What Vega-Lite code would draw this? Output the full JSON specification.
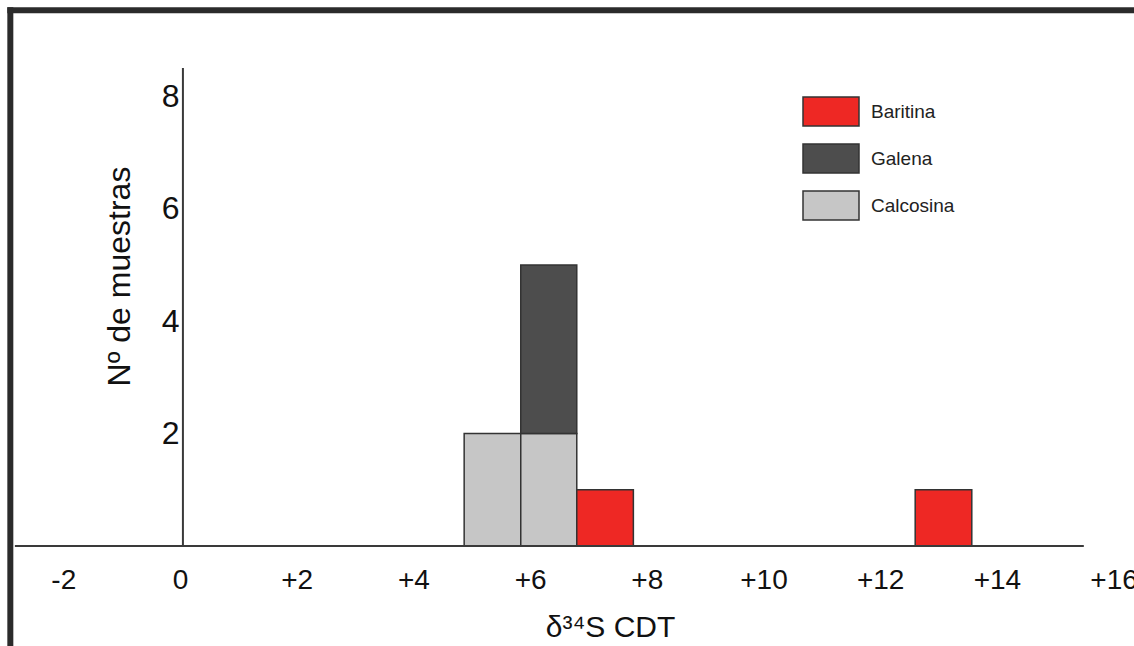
{
  "$schema": "https://vega.github.io/schema/vega-lite/v6.json",
  "width": 1134,
  "height": 646,
  "autosize": "none",
  "padding": 0,
  "background": "white",
  "config": {
    "view": {"stroke": null},
    "font": "Liberation Sans",
    "axis": {"grid": false, "ticks": false, "tickSize": 0, "domain": false, "labelColor": "#111", "titleColor": "#111", "titleFontWeight": "normal", "labelFont": "Liberation Sans", "titleFont": "Liberation Sans"}
  },
  "datasets": {
    "muestras": [
      {"mineral": "Calcosina", "desde": 4.87, "hasta": 5.84, "n": 2},
      {"mineral": "Calcosina", "desde": 5.84, "hasta": 6.8, "n": 2},
      {"mineral": "Galena", "desde": 5.84, "hasta": 6.8, "n": 3},
      {"mineral": "Baritina", "desde": 6.8, "hasta": 7.77, "n": 1},
      {"mineral": "Baritina", "desde": 12.6, "hasta": 13.57, "n": 1}
    ],
    "uno": [{}]
  },
  "layer": [
    {
      "data": {"name": "muestras"},
      "transform": [
        {"stack": "n", "groupby": ["desde"], "sort": [{"field": "mineral", "order": "ascending"}], "as": ["n0", "n1"]}
      ],
      "mark": {"type": "bar", "stroke": "#333", "strokeWidth": 1.5, "opacity": 1},
      "encoding": {
        "x": {
          "field": "desde", "type": "quantitative",
          "scale": {"domain": [-3.085, 16.35], "nice": false, "zero": false},
          "axis": {
            "orient": "bottom", "offset": -100, "values": [-2, 0, 2, 4, 6, 8, 10, 12, 14, 16],
            "labelExpr": "datum.value > 0 ? '+' + datum.value : '' + datum.value",
            "labelFontSize": 28, "labelPadding": 34, "labelBaseline": "middle", "labelAlign": "center",
            "title": "δ³⁴S CDT", "titleFontSize": 30, "titleX": 610, "titleY": 81, "titleAlign": "center", "titleBaseline": "middle"
          }
        },
        "x2": {"field": "hasta"},
        "y": {
          "field": "n0", "type": "quantitative",
          "scale": {"domain": [-1.779, 9.715], "nice": false, "zero": false},
          "axis": {
            "orient": "left", "offset": -183, "values": [2, 4, 6, 8], "format": "d",
            "labelFontSize": 32, "labelPadding": 4, "labelAlign": "right", "labelBaseline": "middle",
            "title": "Nº de muestras", "titleFontSize": 32, "titleX": -64, "titleY": 276, "titleAngle": -90, "titleAlign": "center", "titleBaseline": "middle"
          }
        },
        "y2": {"field": "n1"},
        "color": {
          "field": "mineral", "type": "nominal",
          "scale": {"domain": ["Baritina", "Galena", "Calcosina"], "range": ["#ee2824", "#4d4d4d", "#c6c6c6"]},
          "legend": {
            "title": null, "orient": "none", "legendX": 802, "legendY": 82.5, "padding": 0,
            "symbolType": "M-1,-0.52H1V0.52H-1Z", "symbolSize": 3136, "symbolStrokeColor": "#333", "symbolStrokeWidth": 1.5, "symbolOpacity": 1,
            "labelFontSize": 19, "labelOffset": 11, "labelColor": "#222", "labelFont": "Liberation Sans", "rowPadding": 0, "labelBaseline": "middle"
          }
        }
      }
    },
    {
      "data": {"name": "uno"},
      "mark": {"type": "rule", "color": "#2b2b2b", "strokeWidth": 6, "strokeCap": "square"},
      "encoding": {
        "x": {"datum": -2.908, "type": "quantitative"},
        "y": {"datum": 9.532, "type": "quantitative"},
        "y2": {"datum": -1.9}
      }
    },
    {
      "data": {"name": "uno"},
      "mark": {"type": "rule", "color": "#2b2b2b", "strokeWidth": 6, "strokeCap": "square"},
      "encoding": {
        "x": {"datum": -2.908, "type": "quantitative"},
        "x2": {"datum": 16.5},
        "y": {"datum": 9.532, "type": "quantitative"}
      }
    },
    {
      "data": {"name": "uno"},
      "mark": {"type": "rule", "color": "#3a3a3a", "strokeWidth": 2},
      "encoding": {
        "x": {"datum": -2.83, "type": "quantitative"},
        "x2": {"datum": 15.49},
        "y": {"datum": 0, "type": "quantitative"}
      }
    },
    {
      "data": {"name": "uno"},
      "mark": {"type": "rule", "color": "#3a3a3a", "strokeWidth": 2},
      "encoding": {
        "x": {"datum": 0.05, "type": "quantitative"},
        "y": {"datum": 0, "type": "quantitative"},
        "y2": {"datum": 8.505}
      }
    }
  ]
}
